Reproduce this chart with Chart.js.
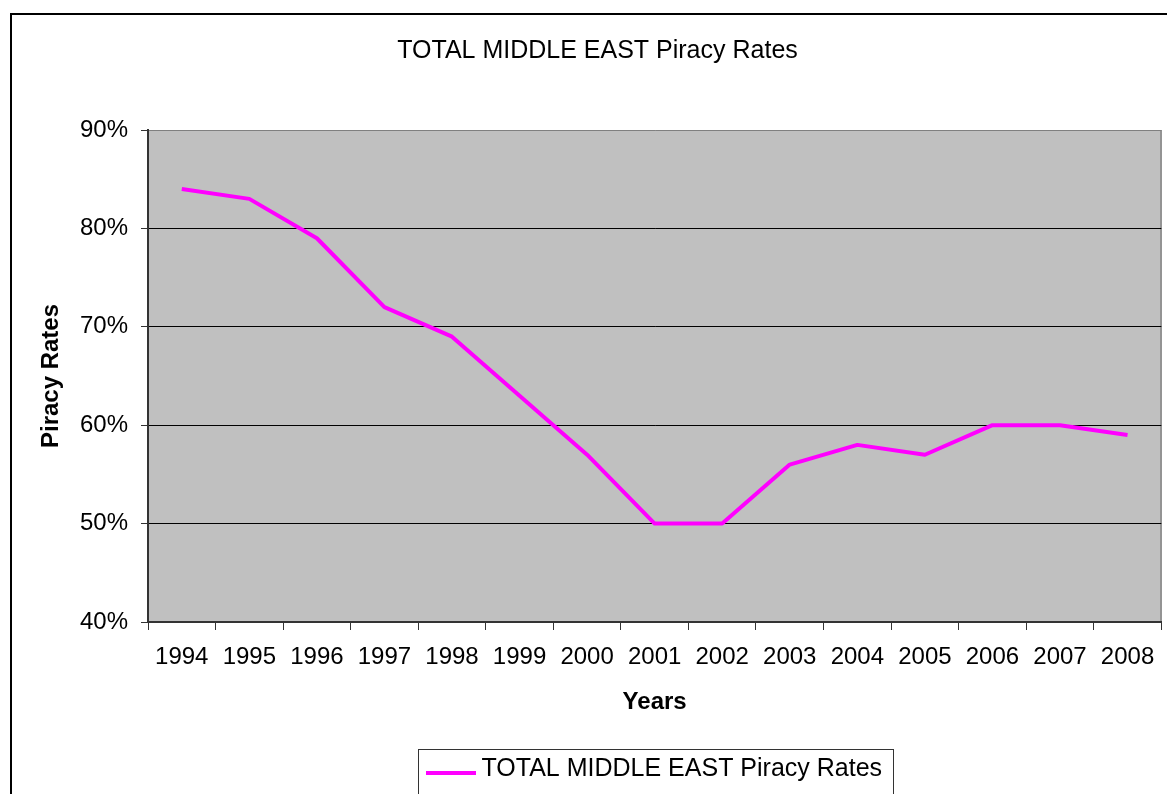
<!DOCTYPE html>
<html>
<head>
<meta charset="utf-8">
<script src="https://cdn.jsdelivr.net/npm/chart.js@4/dist/chart.umd.min.js"></script>
<style>
  html, body { margin: 0; padding: 0; background: #ffffff; }
  #wrap { position: relative; width: 1167px; height: 794px; }
</style>
</head>
<body>
<div id="wrap"><canvas id="c" width="1167" height="794"></canvas></div>
<script>
const chartTitle = 'TOTAL MIDDLE EAST Piracy Rates';
const seriesName = 'TOTAL MIDDLE EAST Piracy Rates';
const xAxisTitle = 'Years';
const yAxisTitle = 'Piracy Rates';
const years = ['1994', '1995', '1996', '1997', '1998', '1999', '2000', '2001', '2002', '2003', '2004', '2005', '2006', '2007', '2008'];
const piracyRates = [84, 83, 79, 72, 69, 63, 57, 50, 50, 56, 58, 57, 60, 60, 59];
const yTickValues = [40, 50, 60, 70, 80, 90];

const FONT = "'Liberation Sans', Arial, sans-serif";
const MAGENTA = '#FF00FF';

// legend sample line (drawn by the legend as its point style)
const legendLine = document.createElement('canvas');
legendLine.width = 50;
legendLine.height = 24;
(function () {
  const g = legendLine.getContext('2d');
  g.fillStyle = MAGENTA;
  g.fillRect(0, 14, 50, 4);
})();

const decorPlugin = {
  id: 'decor',
  afterLayout(chart) {
    const t = chart.titleBlock;
    if (t) { t.left += 16.5; t.right += 16.5; }
    const L = chart.legend;
    if (L && L.legendHitBoxes && L.legendHitBoxes.length) {
      const w = L.legendHitBoxes[0].width;
      const start = (L.left + L.right - w) / 2;
      const d = 433 - start;
      L.left += d; L.right += d;
    }
  },
  beforeDraw(chart) {
    const ctx = chart.ctx;
    const a = chart.chartArea;
    ctx.save();
    ctx.fillStyle = '#ffffff';
    ctx.fillRect(0, 0, chart.width, chart.height);
    // outer frame
    ctx.fillStyle = '#000000';
    ctx.fillRect(10, 13, 2, chart.height);
    ctx.fillRect(10, 13, chart.width, 2);
    // plot background
    ctx.fillStyle = '#C0C0C0';
    ctx.fillRect(a.left, a.top, a.right - a.left, a.bottom - a.top);
    // right border of plot
    ctx.fillStyle = '#808080';
    ctx.fillRect(a.right - 1, a.top, 1.5, a.bottom - a.top);
    ctx.restore();
  },
  afterDraw(chart) {
    const L = chart.legend;
    if (!L || !L.legendHitBoxes || !L.legendHitBoxes.length) return;
    const hb = L.legendHitBoxes[0];
    const ctx = chart.ctx;
    const left = Math.round(hb.left - 15) + 0.5;
    const right = Math.round(hb.left + hb.width + 11) + 0.5;
    const top = Math.round(L.top + 2) + 0.5;
    ctx.save();
    ctx.strokeStyle = '#333333';
    ctx.lineWidth = 1;
    ctx.strokeRect(left, top, right - left, chart.height + 20 - top);
    ctx.restore();
  }
};

new Chart(document.getElementById('c'), {
  type: 'line',
  data: {
    labels: years,
    datasets: [{
      label: seriesName,
      data: piracyRates,
      borderColor: MAGENTA,
      backgroundColor: MAGENTA,
      borderWidth: 4,
      tension: 0,
      pointRadius: 0,
      pointHoverRadius: 0,
      fill: false,
      borderJoinStyle: 'round',
      borderCapStyle: 'butt'
    }]
  },
  options: {
    responsive: false,
    animation: false,
    devicePixelRatio: 1,
    layout: { padding: { left: 0, right: 5, top: 0, bottom: 2.5 } },
    plugins: {
      title: {
        display: true,
        text: chartTitle,
        color: '#000000',
        font: { family: FONT, size: 25, weight: 'normal', lineHeight: 1.2 },
        padding: { top: 36.3, bottom: 63.7 }
      },
      legend: {
        display: true,
        position: 'bottom',
        align: 'center',
        labels: {
          color: '#000000',
          font: { family: FONT, size: 25, weight: 'normal', lineHeight: 1.2 },
          padding: 10,
          usePointStyle: true,
          pointStyle: legendLine,
          pointStyleWidth: 36,
          boxHeight: 24
        }
      },
      tooltip: { enabled: false }
    },
    scales: {
      x: {
        type: 'category',
        offset: true,
        afterFit(scale) { scale.height = 124.5; },
        grid: {
          offset: true,
          drawOnChartArea: false,
          drawTicks: true,
          tickLength: 8,
          tickColor: '#333333',
          tickWidth: 1
        },
        border: { display: true, color: '#333333', width: 2 },
        ticks: {
          color: '#000000',
          font: { family: FONT, size: 24, lineHeight: 1.2 },
          padding: 12.6,
          maxRotation: 0,
          minRotation: 0,
          autoSkip: false
        },
        title: {
          display: true,
          text: xAxisTitle,
          color: '#000000',
          font: { family: FONT, size: 24, weight: 'bold', lineHeight: 1.2 },
          padding: { top: 0, bottom: 29.6 }
        }
      },
      y: {
        type: 'linear',
        min: yTickValues[0],
        max: yTickValues[yTickValues.length - 1],
        afterFit(scale) { scale.width = 148; },
        afterBuildTicks(scale) { scale.ticks = yTickValues.map(v => ({ value: v })); },
        grid: {
          drawTicks: true,
          tickLength: 7,
          tickColor: '#333333',
          lineWidth: 1,
          color(ctx) {
            const v = ctx.tick && ctx.tick.value;
            if (v === yTickValues[yTickValues.length - 1]) return '#808080';
            if (v === yTickValues[0]) return '#333333';
            return '#000000';
          }
        },
        border: { display: true, color: '#333333', width: 2 },
        ticks: {
          color: '#000000',
          font: { family: FONT, size: 24, lineHeight: 1.2 },
          padding: 13,
          callback: (v) => v + '%'
        },
        title: {
          display: true,
          text: yAxisTitle,
          color: '#000000',
          font: { family: FONT, size: 24, weight: 'bold', lineHeight: 1.2 },
          padding: { top: 37, bottom: 0 }
        }
      }
    }
  },
  plugins: [decorPlugin]
});
</script>
</body>
</html>
